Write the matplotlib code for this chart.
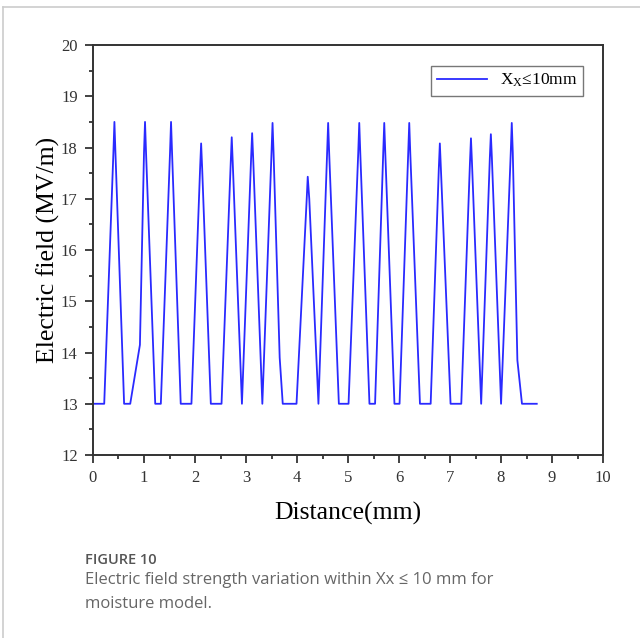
import matplotlib
matplotlib.use("Agg")
import matplotlib.pyplot as plt
from matplotlib.lines import Line2D
from matplotlib.ticker import MultipleLocator

# distance (mm) and field (MV/m)
distance = [0.00, 0.22, 0.40, 0.42, 0.44, 0.61, 0.73, 0.92, 1.00, 1.02, 1.04,
            1.22, 1.33, 1.51, 1.53, 1.55, 1.72, 1.93, 2.10, 2.12, 2.14, 2.31,
            2.52, 2.70, 2.72, 2.74, 2.92, 3.10, 3.12, 3.14, 3.32, 3.50, 3.52,
            3.54, 3.66, 3.72, 3.99, 4.19, 4.21, 4.24, 4.42, 4.59, 4.61, 4.63,
            4.82, 5.01, 5.20, 5.22, 5.24, 5.42, 5.53, 5.69, 5.71, 5.73, 5.91,
            6.01, 6.18, 6.20, 6.22, 6.41, 6.62, 6.78, 6.80, 6.82, 7.01, 7.22,
            7.39, 7.41, 7.43, 7.61, 7.78, 7.80, 7.82, 8.00, 8.19, 8.21, 8.23,
            8.32, 8.41, 8.70]
field = [13.0, 13.0, 17.9, 18.5, 17.9, 13.0, 13.0, 14.15, 17.9, 18.5, 17.9,
         13.0, 13.0, 17.9, 18.5, 17.9, 13.0, 13.0, 17.6, 18.08, 17.6, 13.0,
         13.0, 17.7, 18.2, 17.7, 13.0, 17.8, 18.28, 17.8, 13.0, 17.9, 18.48,
         17.9, 13.9, 13.0, 13.0, 17.0, 17.43, 17.0, 13.0, 17.9, 18.48, 17.9,
         13.0, 13.0, 17.9, 18.48, 17.9, 13.0, 13.0, 17.9, 18.48, 17.9, 13.0,
         13.0, 17.9, 18.48, 17.9, 13.0, 13.0, 17.6, 18.08, 17.6, 13.0, 13.0,
         17.7, 18.18, 17.7, 13.0, 17.8, 18.26, 17.8, 13.0, 17.9, 18.48, 17.9,
         13.85, 13.0, 13.0]

x_ticks = list(range(0, 11))
y_ticks = list(range(12, 21))
series_label = r"$\mathregular{X_X}$≤10mm"
caption_head = "FIGURE 10"
caption_lines = ["Electric field strength variation within Xx ≤ 10 mm for",
                 "moisture model."]

serif = ["Liberation Serif", "DejaVu Serif"]
sans = ["Open Sans", "DejaVu Sans"]

fig = plt.figure(figsize=(6.4, 6.38), dpi=100)
ax = fig.add_axes([0.1453, 0.2868, 0.797, 0.6426])

ax.plot(distance, field, color="#2a2aff", lw=1.3, label=series_label)

ax.set_xlim(0, 10)
ax.set_ylim(12, 20)
ax.set_xticks(x_ticks)
ax.set_yticks(y_ticks)
ax.xaxis.set_minor_locator(MultipleLocator(0.5))
ax.yaxis.set_minor_locator(MultipleLocator(0.5))
ax.tick_params(which="both", direction="out", top=False, right=False,
               width=1.3, color="#333333")
ax.tick_params(which="major", length=6, pad=5)
ax.tick_params(which="minor", length=3)
for lab in ax.get_xticklabels() + ax.get_yticklabels():
    lab.set_family(serif)
    lab.set_fontsize(12)
    lab.set_color("#333333")
for sp in ax.spines.values():
    sp.set_linewidth(1.4)
    sp.set_color("#333333")

ax.set_xlabel("Distance(mm)", family=serif, fontsize=18.5, labelpad=11)
ax.set_ylabel("Electric field (MV/m)", family=serif, fontsize=18.5, labelpad=1)

leg = ax.legend(loc="upper right", bbox_to_anchor=(0.961, 0.949),
                borderaxespad=0, prop={"family": serif, "size": 12.5},
                fancybox=False, framealpha=1, edgecolor="#777777",
                handlelength=2.9, borderpad=0.35, handletextpad=0.7)
leg.get_frame().set_linewidth(1.0)

# card border
fig.add_artist(Line2D([3 / 640, 1], [1 - 7 / 638, 1 - 7 / 638],
                      transform=fig.transFigure, color="#cccccc", lw=1.2))
fig.add_artist(Line2D([3 / 640, 3 / 640], [0, 1 - 7 / 638],
                      transform=fig.transFigure, color="#cccccc", lw=1.2))

fig.text(85 / 640, 1 - 560 / 638, caption_head, family=sans,
         fontsize=10.5, weight="semibold", color="#555555", va="center")
for i, line in enumerate(caption_lines):
    fig.text(85 / 640, 1 - (580 + 24 * i) / 638, line, family=sans,
             fontsize=12, color="#666666", va="center")

fig.savefig("out.png", dpi=100)
